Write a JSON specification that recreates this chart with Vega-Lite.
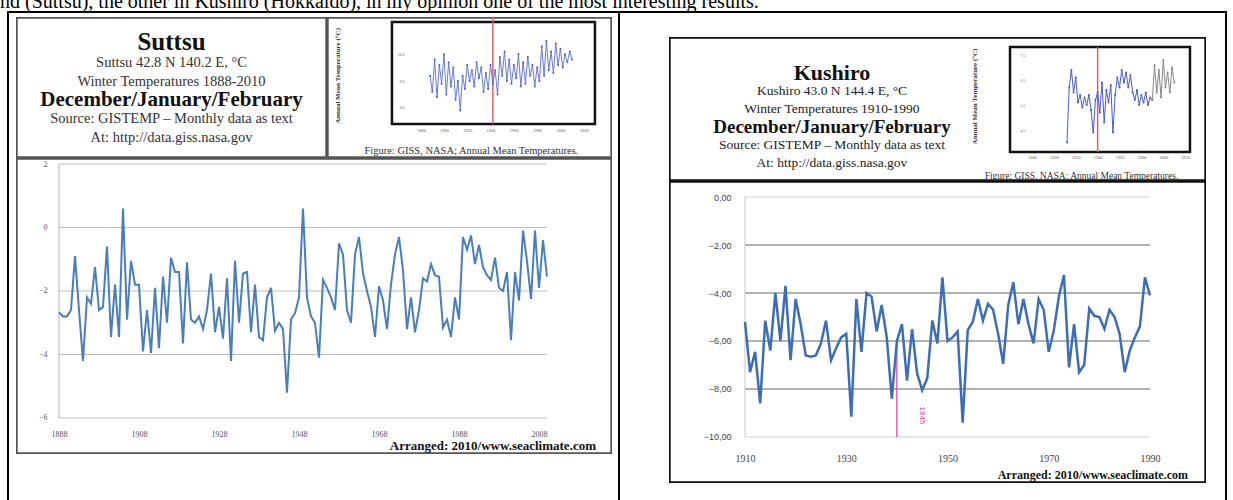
{
"$schema": "https://vega.github.io/schema/vega-lite/v6.json",
"padding": 0,
"background": "white",
"config": {"view": {"stroke": null}, "concat": {"spacing": 0}, "font": "Liberation Serif", "axis": {"domain": false, "ticks": false, "grid": false, "labelFont": "Liberation Serif"}},
"datasets": {
"suttsu": [
{"year":1888,"temp":-2.67},{"year":1889,"temp":-2.8},{"year":1890,"temp":-2.8},{"year":1891,"temp":-2.6},{"year":1892,"temp":-0.9},{"year":1893,"temp":-2.6},{"year":1894,"temp":-4.2},{"year":1895,"temp":-2.2},{"year":1896,"temp":-2.4},{"year":1897,"temp":-1.25},{"year":1898,"temp":-2.6},{"year":1899,"temp":-2.5},{"year":1900,"temp":-0.6},{"year":1901,"temp":-3.45},{"year":1902,"temp":-1.8},{"year":1903,"temp":-3.45},{"year":1904,"temp":0.6},{"year":1905,"temp":-2.9},{"year":1906,"temp":-1.05},{"year":1907,"temp":-1.8},{"year":1908,"temp":-1.8},{"year":1909,"temp":-3.9},{"year":1910,"temp":-2.6},{"year":1911,"temp":-3.95},{"year":1912,"temp":-1.9},{"year":1913,"temp":-3.8},{"year":1914,"temp":-1.55},{"year":1915,"temp":-3.0},{"year":1916,"temp":-0.95},{"year":1917,"temp":-1.4},{"year":1918,"temp":-1.4},{"year":1919,"temp":-3.65},{"year":1920,"temp":-1.1},{"year":1921,"temp":-2.9},{"year":1922,"temp":-3.0},{"year":1923,"temp":-2.8},{"year":1924,"temp":-3.2},{"year":1925,"temp":-2.6},{"year":1926,"temp":-1.45},{"year":1927,"temp":-3.3},{"year":1928,"temp":-2.5},{"year":1929,"temp":-3.5},{"year":1930,"temp":-1.6},{"year":1931,"temp":-4.2},{"year":1932,"temp":-1.05},{"year":1933,"temp":-3.0},{"year":1934,"temp":-1.45},{"year":1935,"temp":-1.4},{"year":1936,"temp":-3.3},{"year":1937,"temp":-1.8},{"year":1938,"temp":-3.45},{"year":1939,"temp":-3.55},{"year":1940,"temp":-2.2},{"year":1941,"temp":-1.9},{"year":1942,"temp":-3.25},{"year":1943,"temp":-3.0},{"year":1944,"temp":-3.2},{"year":1945,"temp":-5.2},{"year":1946,"temp":-2.9},{"year":1947,"temp":-2.7},{"year":1948,"temp":-2.2},{"year":1949,"temp":0.6},{"year":1950,"temp":-2.2},{"year":1951,"temp":-2.8},{"year":1952,"temp":-3.0},{"year":1953,"temp":-4.1},{"year":1954,"temp":-1.65},{"year":1955,"temp":-1.9},{"year":1956,"temp":-2.2},{"year":1957,"temp":-2.6},{"year":1958,"temp":-0.5},{"year":1959,"temp":-0.85},{"year":1960,"temp":-2.6},{"year":1961,"temp":-3.0},{"year":1962,"temp":-0.85},{"year":1963,"temp":-0.3},{"year":1964,"temp":-1.45},{"year":1965,"temp":-2.0},{"year":1966,"temp":-2.5},{"year":1967,"temp":-3.45},{"year":1968,"temp":-1.85},{"year":1969,"temp":-2.3},{"year":1970,"temp":-3.2},{"year":1971,"temp":-1.8},{"year":1972,"temp":-0.85},{"year":1973,"temp":-0.3},{"year":1974,"temp":-1.35},{"year":1975,"temp":-3.2},{"year":1976,"temp":-2.2},{"year":1977,"temp":-3.3},{"year":1978,"temp":-2.6},{"year":1979,"temp":-1.6},{"year":1980,"temp":-1.7},{"year":1981,"temp":-1.15},{"year":1982,"temp":-1.5},{"year":1983,"temp":-1.55},{"year":1984,"temp":-3.15},{"year":1985,"temp":-2.9},{"year":1986,"temp":-3.45},{"year":1987,"temp":-2.2},{"year":1988,"temp":-2.9},{"year":1989,"temp":-0.3},{"year":1990,"temp":-0.7},{"year":1991,"temp":-0.25},{"year":1992,"temp":-1.15},{"year":1993,"temp":-0.55},{"year":1994,"temp":-1.25},{"year":1995,"temp":-1.5},{"year":1996,"temp":-1.65},{"year":1997,"temp":-0.95},{"year":1998,"temp":-1.9},{"year":1999,"temp":-2.0},{"year":2000,"temp":-1.4},{"year":2001,"temp":-3.55},{"year":2002,"temp":-1.4},{"year":2003,"temp":-2.3},{"year":2004,"temp":-0.1},{"year":2005,"temp":-1.05},{"year":2006,"temp":-2.25},{"year":2007,"temp":-0.1},{"year":2008,"temp":-1.9},{"year":2009,"temp":-0.4},{"year":2010,"temp":-1.55}
],
"kushiro": [
{"year":1910,"temp":-5.2},{"year":1911,"temp":-7.3},{"year":1912,"temp":-6.45},{"year":1913,"temp":-8.6},{"year":1914,"temp":-5.15},{"year":1915,"temp":-6.4},{"year":1916,"temp":-4.0},{"year":1917,"temp":-6.0},{"year":1918,"temp":-3.7},{"year":1919,"temp":-6.8},{"year":1920,"temp":-4.25},{"year":1921,"temp":-5.3},{"year":1922,"temp":-6.6},{"year":1923,"temp":-6.65},{"year":1924,"temp":-6.6},{"year":1925,"temp":-6.1},{"year":1926,"temp":-5.15},{"year":1927,"temp":-6.8},{"year":1928,"temp":-6.3},{"year":1929,"temp":-5.85},{"year":1930,"temp":-5.7},{"year":1931,"temp":-9.15},{"year":1932,"temp":-4.25},{"year":1933,"temp":-6.45},{"year":1934,"temp":-4.0},{"year":1935,"temp":-4.15},{"year":1936,"temp":-5.6},{"year":1937,"temp":-4.5},{"year":1938,"temp":-5.85},{"year":1939,"temp":-8.4},{"year":1940,"temp":-6.0},{"year":1941,"temp":-5.3},{"year":1942,"temp":-7.65},{"year":1943,"temp":-5.5},{"year":1944,"temp":-7.35},{"year":1945,"temp":-8.05},{"year":1946,"temp":-7.55},{"year":1947,"temp":-5.15},{"year":1948,"temp":-6.1},{"year":1949,"temp":-3.35},{"year":1950,"temp":-6.0},{"year":1951,"temp":-5.85},{"year":1952,"temp":-5.6},{"year":1953,"temp":-9.4},{"year":1954,"temp":-5.55},{"year":1955,"temp":-5.2},{"year":1956,"temp":-4.25},{"year":1957,"temp":-5.15},{"year":1958,"temp":-4.45},{"year":1959,"temp":-4.7},{"year":1960,"temp":-5.7},{"year":1961,"temp":-6.95},{"year":1962,"temp":-4.5},{"year":1963,"temp":-3.55},{"year":1964,"temp":-5.3},{"year":1965,"temp":-4.25},{"year":1966,"temp":-5.3},{"year":1967,"temp":-6.1},{"year":1968,"temp":-4.25},{"year":1969,"temp":-4.7},{"year":1970,"temp":-6.45},{"year":1971,"temp":-5.55},{"year":1972,"temp":-4.15},{"year":1973,"temp":-3.25},{"year":1974,"temp":-7.1},{"year":1975,"temp":-5.3},{"year":1976,"temp":-7.3},{"year":1977,"temp":-7.0},{"year":1978,"temp":-4.65},{"year":1979,"temp":-4.95},{"year":1980,"temp":-5.0},{"year":1981,"temp":-5.5},{"year":1982,"temp":-4.7},{"year":1983,"temp":-5.0},{"year":1984,"temp":-5.7},{"year":1985,"temp":-7.3},{"year":1986,"temp":-6.4},{"year":1987,"temp":-5.85},{"year":1988,"temp":-5.4},{"year":1989,"temp":-3.35},{"year":1990,"temp":-4.1}
],
"suttsuInset": [
{"year":1888,"temp":9.2},{"year":1890,"temp":8.6},{"year":1892,"temp":9.8},{"year":1894,"temp":8.4},{"year":1896,"temp":9.6},{"year":1898,"temp":8.9},{"year":1900,"temp":10.0},{"year":1902,"temp":8.5},{"year":1904,"temp":9.7},{"year":1906,"temp":8.8},{"year":1908,"temp":9.5},{"year":1910,"temp":8.3},{"year":1912,"temp":9.0},{"year":1914,"temp":7.9},{"year":1916,"temp":9.2},{"year":1918,"temp":8.7},{"year":1920,"temp":9.6},{"year":1922,"temp":9.0},{"year":1924,"temp":9.4},{"year":1926,"temp":8.8},{"year":1928,"temp":9.7},{"year":1930,"temp":9.1},{"year":1932,"temp":9.5},{"year":1934,"temp":8.6},{"year":1936,"temp":9.3},{"year":1938,"temp":8.7},{"year":1940,"temp":9.6},{"year":1942,"temp":8.9},{"year":1944,"temp":9.4},{"year":1946,"temp":8.5},{"year":1948,"temp":9.9},{"year":1950,"temp":9.2},{"year":1952,"temp":10.1},{"year":1954,"temp":9.0},{"year":1956,"temp":9.8},{"year":1958,"temp":8.9},{"year":1960,"temp":9.6},{"year":1962,"temp":9.1},{"year":1964,"temp":10.0},{"year":1966,"temp":8.8},{"year":1968,"temp":9.7},{"year":1970,"temp":8.9},{"year":1972,"temp":9.9},{"year":1974,"temp":9.2},{"year":1976,"temp":9.6},{"year":1978,"temp":8.8},{"year":1980,"temp":9.5},{"year":1982,"temp":9.0},{"year":1984,"temp":10.3},{"year":1986,"temp":9.2},{"year":1988,"temp":10.5},{"year":1990,"temp":9.4},{"year":1992,"temp":10.1},{"year":1994,"temp":9.3},{"year":1996,"temp":10.4},{"year":1998,"temp":9.6},{"year":2000,"temp":10.2},{"year":2002,"temp":9.5},{"year":2004,"temp":10.0},{"year":2006,"temp":9.7},{"year":2008,"temp":10.1},{"year":2010,"temp":9.8}
],
"kushiroInset": [
{"year":1912,"temp":4.0,"part":"main"},{"year":1914,"temp":6.2,"part":"main"},{"year":1916,"temp":6.9,"part":"main"},{"year":1918,"temp":6.0,"part":"main"},{"year":1920,"temp":6.6,"part":"main"},{"year":1922,"temp":5.6,"part":"main"},{"year":1924,"temp":5.9,"part":"main"},{"year":1926,"temp":5.4,"part":"main"},{"year":1928,"temp":5.8,"part":"main"},{"year":1930,"temp":5.5,"part":"main"},{"year":1932,"temp":5.9,"part":"main"},{"year":1934,"temp":5.3,"part":"main"},{"year":1936,"temp":4.4,"part":"main"},{"year":1938,"temp":5.7,"part":"main"},{"year":1940,"temp":6.0,"part":"main"},{"year":1942,"temp":5.2,"part":"main"},{"year":1944,"temp":6.4,"part":"main"},{"year":1946,"temp":4.8,"part":"main"},{"year":1948,"temp":6.1,"part":"main"},{"year":1950,"temp":5.6,"part":"main"},{"year":1952,"temp":6.3,"part":"main"},{"year":1954,"temp":4.4,"part":"main"},{"year":1956,"temp":5.9,"part":"main"},{"year":1958,"temp":6.6,"part":"main"},{"year":1960,"temp":6.2,"part":"main"},{"year":1962,"temp":6.9,"part":"main"},{"year":1964,"temp":6.4,"part":"main"},{"year":1966,"temp":6.8,"part":"main"},{"year":1968,"temp":6.2,"part":"main"},{"year":1970,"temp":6.7,"part":"main"},{"year":1972,"temp":6.0,"part":"main"},{"year":1974,"temp":5.7,"part":"main"},{"year":1976,"temp":6.1,"part":"main"},{"year":1978,"temp":5.5,"part":"main"},{"year":1980,"temp":5.9,"part":"main"},{"year":1982,"temp":5.6,"part":"main"},{"year":1984,"temp":6.0,"part":"main"},{"year":1986,"temp":5.5,"part":"main"},{"year":1988,"temp":5.8,"part":"main"},{"year":1990,"temp":5.7,"part":"main"},
{"year":1990,"temp":5.7,"part":"recent"},{"year":1992,"temp":7.1,"part":"recent"},{"year":1994,"temp":6.0,"part":"recent"},{"year":1996,"temp":6.9,"part":"recent"},{"year":1998,"temp":5.8,"part":"recent"},{"year":2000,"temp":7.3,"part":"recent"},{"year":2002,"temp":6.2,"part":"recent"},{"year":2004,"temp":6.8,"part":"recent"},{"year":2006,"temp":6.0,"part":"recent"},{"year":2008,"temp":7.0,"part":"recent"},{"year":2010,"temp":6.4,"part":"recent"}
],
"leftText": [
{"line":1,"kind":"name","text":"Suttsu"},
{"line":2,"kind":"detail","text":"Suttsu 42.8 N 140.2 E, °C"},
{"line":3,"kind":"detail","text":"Winter Temperatures 1888-2010"},
{"line":4,"kind":"season","text":"December/January/February"},
{"line":5,"kind":"detail","text":"Source: GISTEMP – Monthly data as text"},
{"line":6,"kind":"detail","text":"At: http://data.giss.nasa.gov"}
],
"rightText": [
{"line":1,"kind":"name","text":"Kushiro"},
{"line":2,"kind":"detail","text":"Kushiro 43.0 N 144.4 E, °C"},
{"line":3,"kind":"detail","text":"Winter Temperatures 1910-1990"},
{"line":4,"kind":"season","text":"December/January/February"},
{"line":5,"kind":"detail","text":"Source: GISTEMP – Monthly data as text"},
{"line":6,"kind":"detail","text":"At: http://data.giss.nasa.gov"}
]
},
"vconcat": [
{"width": 1233, "height": 11, "data": {"values": [{"t": "nd (Suttsu), the other in Kushiro (Hokkaido), in my opinion one of the most interesting results."}]},
 "mark": {"type": "text", "align": "left", "baseline": "alphabetic", "dy": 2.5, "fontSize": 20, "font": "Liberation Serif", "color": "#000", "clip": true},
 "encoding": {"text": {"field": "t"}, "x": {"datum": 0, "type": "quantitative", "scale": {"domain": [0, 1], "nice": false, "zero": false}, "axis": null}}},
{"spacing": 0, "hconcat": [
 {"width": 7, "height": 2, "data": {"values": [{}]}, "mark": {"type": "rect", "opacity": 0}, "encoding": {}},
 {"spacing": 0, "vconcat": [
  {"width": 1220, "height": 2, "data": {"values": [{}]}, "mark": {"type": "rect", "color": "#000"}, "encoding": {}},
  {"spacing": 0, "hconcat": [
   {"width": 2, "height": 487, "data": {"values": [{}]}, "mark": {"type": "rect", "color": "#000"}, "encoding": {}},
   {"width": 7, "height": 2, "data": {"values": [{}]}, "mark": {"type": "rect", "opacity": 0}, "encoding": {}},
   {"spacing": 0, "vconcat": [
    {"width": 596, "height": 3, "data": {"values": [{}]}, "mark": {"type": "rect", "opacity": 0}, "encoding": {}},
    {"spacing": 0, "hconcat": [
     {"width": 311, "height": 141, "data": {"name": "leftText"},
      "layer": [
       {"data": {"values": [{}]}, "mark": {"type": "rect", "filled": false, "stroke": "#555", "strokeWidth": 3.4, "clip": true}, "encoding": {}},
       {"transform": [{"filter": "datum.kind === 'name'"}], "mark": {"type": "text", "font": "Liberation Serif", "fontWeight": "bold", "fontSize": 25, "baseline": "middle", "dy": -2, "color": "#111", "clip": true},
        "encoding": {"text": {"field": "text"}, "y": {"field": "line", "type": "quantitative", "scale": {"domain": [-0.436, 7.064], "reverse": true, "nice": false, "zero": false}, "axis": null}}},
       {"transform": [{"filter": "datum.kind === 'detail'"}], "mark": {"type": "text", "font": "Liberation Serif", "fontSize": 14.5, "baseline": "middle", "color": "#333", "clip": true},
        "encoding": {"text": {"field": "text"}, "y": {"field": "line", "type": "quantitative", "scale": {"domain": [-0.436, 7.064], "reverse": true, "nice": false, "zero": false}, "axis": null}}},
       {"transform": [{"filter": "datum.kind === 'season'"}], "mark": {"type": "text", "font": "Liberation Serif", "fontWeight": "bold", "fontSize": 21, "baseline": "middle", "color": "#111", "clip": true},
        "encoding": {"text": {"field": "text"}, "y": {"field": "line", "type": "quantitative", "scale": {"domain": [-0.436, 7.064], "reverse": true, "nice": false, "zero": false}, "axis": null}}}
      ]},
     {"width": 285, "height": 141,
      "layer": [
       {"data": {"values": [{}]}, "mark": {"type": "rect", "filled": false, "stroke": "#555", "strokeWidth": 3.4, "clip": true}, "encoding": {}},
       {"data": {"values": [{}]}, "mark": {"type": "rect", "filled": false, "stroke": "#111", "strokeWidth": 2.5},
        "encoding": {"x": {"datum": 1855.3, "type": "quantitative", "scale": {"domain": [1799.5, 2044.35], "nice": false, "zero": false}, "axis": {"title": null}}, "x2": {"datum": 2029.7},
                     "y": {"datum": 11.2, "type": "quantitative", "scale": {"domain": [6.133, 11.386], "nice": false, "zero": false}, "axis": {"title": null}}, "y2": {"datum": 7.4}}},
       {"data": {"values": [{}]}, "mark": {"type": "rule", "color": "#e06060", "strokeWidth": 1.5},
        "encoding": {"x": {"datum": 1942, "type": "quantitative", "scale": {"domain": [1799.5, 2044.35], "nice": false, "zero": false}, "axis": {"title": null}},
                     "y": {"datum": 11.386, "type": "quantitative", "scale": {"domain": [6.133, 11.386], "nice": false, "zero": false}, "axis": {"title": null}}, "y2": {"datum": 7.4}}},
       {"data": {"name": "suttsuInset"}, "mark": {"type": "line", "color": "#6a7bd6", "strokeWidth": 1, "point": {"size": 4, "color": "#4a5cc8", "filled": true}},
        "encoding": {"x": {"field": "year", "type": "quantitative", "scale": {"domain": [1799.5, 2044.35], "nice": false, "zero": false},
                           "axis": {"values": [1880, 1900, 1920, 1940, 1960, 1980, 2000, 2020], "format": "d", "labelFontSize": 4.5, "labelColor": "#666", "offset": -34, "labelPadding": 3, "title": null}},
                     "y": {"field": "temp", "type": "quantitative", "scale": {"domain": [6.133, 11.386], "nice": false, "zero": false},
                           "axis": {"values": [8, 8.5, 9, 9.5, 10, 10.5], "format": ".1f", "labelFontSize": 4, "labelColor": "#666", "offset": -78, "labelPadding": 1, "title": null}}}},
       {"data": {"values": [{"t": "Figure: GISS, NASA; Annual Mean Temperatures."}]}, "mark": {"type": "text", "font": "Liberation Serif", "fontSize": 10.5, "color": "#333", "baseline": "middle", "clip": true},
        "encoding": {"text": {"field": "t"}, "x": {"datum": 1923.6, "type": "quantitative", "scale": {"domain": [1799.5, 2044.35], "nice": false, "zero": false}, "axis": {"title": null}},
                     "y": {"datum": 6.39, "type": "quantitative", "scale": {"domain": [6.133, 11.386], "nice": false, "zero": false}, "axis": {"title": null}}}},
       {"data": {"values": [{"t": "Annual Mean Temperature (°C)"}]}, "mark": {"type": "text", "font": "Liberation Serif", "fontSize": 7, "fontWeight": "bold", "angle": 270, "color": "#333", "baseline": "middle", "clip": true},
        "encoding": {"text": {"field": "t"}, "x": {"datum": 1809, "type": "quantitative", "scale": {"domain": [1799.5, 2044.35], "nice": false, "zero": false}, "axis": {"title": null}},
                     "y": {"datum": 9.19, "type": "quantitative", "scale": {"domain": [6.133, 11.386], "nice": false, "zero": false}, "axis": {"title": null}}}}
      ]}
    ]},
    {"width": 596, "height": 296,
     "layer": [
      {"data": {"values": [{}]}, "mark": {"type": "rect", "filled": false, "stroke": "#555", "strokeWidth": 3.4, "clip": true}, "encoding": {}},
      {"data": {"values": [{"v": 2}, {"v": 0}, {"v": -2}, {"v": -4}, {"v": -6}]}, "mark": {"type": "rule", "color": "#bdbdbd", "strokeWidth": 1.2},
       "encoding": {"y": {"field": "v", "type": "quantitative", "scale": {"domain": [-7.134, 2.189], "nice": false, "zero": false}, "axis": {"title": null}},
                    "x": {"datum": 1888, "type": "quantitative", "scale": {"domain": [1877.25, 2026.25], "nice": false, "zero": false}, "axis": {"title": null}}, "x2": {"datum": 2010}}},
      {"data": {"values": [{}]}, "mark": {"type": "rule", "color": "#bdbdbd", "strokeWidth": 1.2},
       "encoding": {"x": {"datum": 1888, "type": "quantitative", "scale": {"domain": [1877.25, 2026.25], "nice": false, "zero": false}, "axis": {"title": null}},
                    "y": {"datum": -6, "type": "quantitative", "scale": {"domain": [-7.134, 2.189], "nice": false, "zero": false}, "axis": {"title": null}}, "y2": {"datum": 2}}},
      {"data": {"name": "suttsu"}, "mark": {"type": "line", "color": "#4a7ebb", "strokeWidth": 2},
       "encoding": {"x": {"field": "year", "type": "quantitative", "scale": {"domain": [1877.25, 2026.25], "nice": false, "zero": false},
                          "axis": {"values": [1888, 1908, 1928, 1948, 1968, 1988, 2008], "format": "d", "labelFontSize": 8, "labelColor": "#555", "offset": -24, "labelPadding": 0, "title": null}},
                    "y": {"field": "temp", "type": "quantitative", "scale": {"domain": [-7.134, 2.189], "nice": false, "zero": false},
                          "axis": {"values": [-6, -4, -2, 0, 2], "labelFontSize": 8, "labelColor": "#555", "offset": -31, "labelPadding": 0, "title": null}}}},
      {"data": {"values": [{"t": "Arranged: 2010/www.seaclimate.com"}]}, "mark": {"type": "text", "font": "Liberation Serif", "fontWeight": "bold", "fontSize": 13, "align": "right", "baseline": "middle", "color": "#111", "clip": true},
       "encoding": {"text": {"field": "t"}, "x": {"datum": 2022.25, "type": "quantitative", "scale": {"domain": [1877.25, 2026.25], "nice": false, "zero": false}, "axis": {"title": null}},
                    "y": {"datum": -6.88, "type": "quantitative", "scale": {"domain": [-7.134, 2.189], "nice": false, "zero": false}, "axis": {"title": null}}}}
     ]}
   ]},
   {"width": 6, "height": 2, "data": {"values": [{}]}, "mark": {"type": "rect", "opacity": 0}, "encoding": {}},
   {"width": 2, "height": 487, "data": {"values": [{}]}, "mark": {"type": "rect", "color": "#000"}, "encoding": {}},
   {"width": 49, "height": 2, "data": {"values": [{}]}, "mark": {"type": "rect", "opacity": 0}, "encoding": {}},
   {"spacing": 0, "vconcat": [
    {"width": 537, "height": 24, "data": {"values": [{}]}, "mark": {"type": "rect", "opacity": 0}, "encoding": {}},
    {"width": 537, "height": 144,
     "resolve": {"scale": {"x": "independent", "y": "independent"}},
     "layer": [
      {"data": {"values": [{}]}, "mark": {"type": "rect", "filled": false, "stroke": "#111", "strokeWidth": 3.4, "clip": true}, "encoding": {}},
      {"data": {"name": "rightText"},
       "layer": [
        {"transform": [{"filter": "datum.kind === 'name'"}], "mark": {"type": "text", "font": "Liberation Serif", "fontWeight": "bold", "fontSize": 22, "baseline": "middle", "color": "#111", "clip": true},
         "encoding": {"text": {"field": "text"}, "x": {"datum": 0.3035, "type": "quantitative", "scale": {"domain": [0, 1], "nice": false, "zero": false}, "axis": null}, "y": {"field": "line", "type": "quantitative", "scale": {"domain": [-1, 7], "reverse": true, "nice": false, "zero": false}, "axis": null}}},
        {"transform": [{"filter": "datum.kind === 'detail'"}], "mark": {"type": "text", "font": "Liberation Serif", "fontSize": 13.5, "baseline": "middle", "color": "#222", "clip": true},
         "encoding": {"text": {"field": "text"}, "x": {"datum": 0.3035, "type": "quantitative", "scale": {"domain": [0, 1], "nice": false, "zero": false}, "axis": null}, "y": {"field": "line", "type": "quantitative", "scale": {"domain": [-1, 7], "reverse": true, "nice": false, "zero": false}, "axis": null}}},
        {"transform": [{"filter": "datum.kind === 'season'"}], "mark": {"type": "text", "font": "Liberation Serif", "fontWeight": "bold", "fontSize": 19, "baseline": "middle", "color": "#111", "clip": true},
         "encoding": {"text": {"field": "text"}, "x": {"datum": 0.3035, "type": "quantitative", "scale": {"domain": [0, 1], "nice": false, "zero": false}, "axis": null}, "y": {"field": "line", "type": "quantitative", "scale": {"domain": [-1, 7], "reverse": true, "nice": false, "zero": false}, "axis": null}}}
       ]},
      {"layer": [
        {"data": {"values": [{}]}, "mark": {"type": "rect", "filled": false, "stroke": "#111", "strokeWidth": 2.5},
         "encoding": {"x": {"datum": 1859.9, "type": "quantitative", "scale": {"domain": [1548.2, 2039.05], "nice": false, "zero": false}, "axis": {"title": null}}, "x2": {"datum": 2024.4},
                      "y": {"datum": 7.82, "type": "quantitative", "scale": {"domain": [2.46, 8.22], "nice": false, "zero": false}, "axis": {"title": null}}, "y2": {"datum": 3.62}}},
        {"data": {"values": [{}]}, "mark": {"type": "rule", "color": "#e06060", "strokeWidth": 1.5},
         "encoding": {"x": {"datum": 1940, "type": "quantitative", "scale": {"domain": [1548.2, 2039.05], "nice": false, "zero": false}, "axis": {"title": null}},
                      "y": {"datum": 7.82, "type": "quantitative", "scale": {"domain": [2.46, 8.22], "nice": false, "zero": false}, "axis": {"title": null}}, "y2": {"datum": 3.62}}},
        {"data": {"name": "kushiroInset"}, "mark": {"type": "line", "strokeWidth": 1, "point": {"size": 4, "filled": true}},
         "encoding": {"x": {"field": "year", "type": "quantitative", "scale": {"domain": [1548.2, 2039.05], "nice": false, "zero": false},
                            "axis": {"values": [1880, 1900, 1920, 1940, 1960, 1980, 2000, 2020], "format": "d", "labelFontSize": 4.5, "labelColor": "#666", "offset": -29, "labelPadding": 2, "title": null}},
                      "y": {"field": "temp", "type": "quantitative", "scale": {"domain": [2.46, 8.22], "nice": false, "zero": false},
                            "axis": {"values": [4.5, 5, 5.5, 6, 6.5, 7, 7.5], "format": ".1f", "labelFontSize": 4, "labelColor": "#666", "offset": -357, "labelPadding": 1, "title": null}},
                      "color": {"field": "part", "type": "nominal", "scale": {"domain": ["main", "recent"], "range": ["#4a5cc8", "#888888"]}, "legend": null}}},
        {"data": {"values": [{"t": "Figure: GISS, NASA; Annual Mean Temperatures."}]}, "mark": {"type": "text", "font": "Liberation Serif", "fontSize": 9.5, "color": "#333", "baseline": "middle", "clip": true},
         "encoding": {"text": {"field": "t"}, "x": {"datum": 1925.2, "type": "quantitative", "scale": {"domain": [1548.2, 2039.05], "nice": false, "zero": false}, "axis": {"title": null}},
                      "y": {"datum": 2.66, "type": "quantitative", "scale": {"domain": [2.46, 8.22], "nice": false, "zero": false}, "axis": {"title": null}}}},
        {"data": {"values": [{"t": "Annual Mean Temperature (°C)"}]}, "mark": {"type": "text", "font": "Liberation Serif", "fontSize": 7, "fontWeight": "bold", "angle": 270, "color": "#333", "baseline": "middle", "clip": true},
         "encoding": {"text": {"field": "t"}, "x": {"datum": 1827.9, "type": "quantitative", "scale": {"domain": [1548.2, 2039.05], "nice": false, "zero": false}, "axis": {"title": null}},
                      "y": {"datum": 5.84, "type": "quantitative", "scale": {"domain": [2.46, 8.22], "nice": false, "zero": false}, "axis": {"title": null}}}}
      ]}
     ]},
    {"width": 537, "height": 302,
     "layer": [
      {"data": {"values": [{}]}, "mark": {"type": "rect", "filled": false, "stroke": "#111", "strokeWidth": 3.4, "clip": true}, "encoding": {}},
      {"data": {"values": [{"v": 0}, {"v": -2}, {"v": -4}, {"v": -6}, {"v": -8}, {"v": -10}]}, "mark": {"type": "rule", "strokeWidth": 1.2},
       "encoding": {"y": {"field": "v", "type": "quantitative", "scale": {"domain": [-11.917, 0.667], "nice": false, "zero": false}, "axis": {"title": null}},
                    "x": {"datum": 1910, "type": "quantitative", "scale": {"domain": [1894.99, 2001.06], "nice": false, "zero": false}, "axis": {"title": null}}, "x2": {"datum": 1990},
                    "color": {"condition": {"test": "datum.v === 0 || datum.v === -10", "value": "#d0d0d0"}, "value": "#666666"}}},
      {"data": {"values": [{}]}, "mark": {"type": "rule", "color": "#d0d0d0", "strokeWidth": 1.2},
       "encoding": {"x": {"datum": 1910, "type": "quantitative", "scale": {"domain": [1894.99, 2001.06], "nice": false, "zero": false}, "axis": {"title": null}},
                    "y": {"datum": -10, "type": "quantitative", "scale": {"domain": [-11.917, 0.667], "nice": false, "zero": false}, "axis": {"title": null}}, "y2": {"datum": 0}}},
      {"data": {"values": [{}]}, "mark": {"type": "rule", "color": "#d63aa6", "strokeWidth": 1.2},
       "encoding": {"x": {"datum": 1940, "type": "quantitative", "scale": {"domain": [1894.99, 2001.06], "nice": false, "zero": false}, "axis": {"title": null}},
                    "y": {"datum": -10, "type": "quantitative", "scale": {"domain": [-11.917, 0.667], "nice": false, "zero": false}, "axis": {"title": null}}, "y2": {"datum": -6.0}}},
      {"data": {"name": "kushiro"}, "mark": {"type": "line", "color": "#3d6db5", "strokeWidth": 2.5},
       "encoding": {"x": {"field": "year", "type": "quantitative", "scale": {"domain": [1894.99, 2001.06], "nice": false, "zero": false},
                          "axis": {"values": [1910, 1930, 1950, 1970, 1990], "format": "d", "labelFontSize": 10, "labelColor": "#444", "offset": -30, "labelPadding": 0, "title": null}},
                    "y": {"field": "temp", "type": "quantitative", "scale": {"domain": [-11.917, 0.667], "nice": false, "zero": false},
                          "axis": {"values": [0, -2, -4, -6, -8, -10], "labelExpr": "replace(format(datum.value, '.2f'), '.', ',')", "labelFont": "Liberation Sans", "labelFontSize": 9, "labelColor": "#444", "offset": -62, "labelPadding": 0, "title": null}}}},
      {"data": {"values": [{"t": "1945"}]}, "mark": {"type": "text", "font": "Liberation Sans", "fontSize": 8, "angle": 90, "color": "#d63aa6", "baseline": "middle", "clip": true},
       "encoding": {"text": {"field": "t"}, "x": {"datum": 1945, "type": "quantitative", "scale": {"domain": [1894.99, 2001.06], "nice": false, "zero": false}, "axis": {"title": null}},
                    "y": {"datum": -9.1, "type": "quantitative", "scale": {"domain": [-11.917, 0.667], "nice": false, "zero": false}, "axis": {"title": null}}}},
      {"data": {"values": [{"t": "Arranged: 2010/www.seaclimate.com"}]}, "mark": {"type": "text", "font": "Liberation Serif", "fontWeight": "bold", "fontSize": 12, "align": "right", "baseline": "middle", "color": "#111", "clip": true},
       "encoding": {"text": {"field": "t"}, "x": {"datum": 1997.5, "type": "quantitative", "scale": {"domain": [1894.99, 2001.06], "nice": false, "zero": false}, "axis": {"title": null}},
                    "y": {"datum": -11.58, "type": "quantitative", "scale": {"domain": [-11.917, 0.667], "nice": false, "zero": false}, "axis": {"title": null}}}}
     ]}
   ]},
   {"width": 19, "height": 2, "data": {"values": [{}]}, "mark": {"type": "rect", "opacity": 0}, "encoding": {}},
   {"width": 2, "height": 487, "data": {"values": [{}]}, "mark": {"type": "rect", "color": "#000"}, "encoding": {}}
  ]}
 ]}
]}
]
}
